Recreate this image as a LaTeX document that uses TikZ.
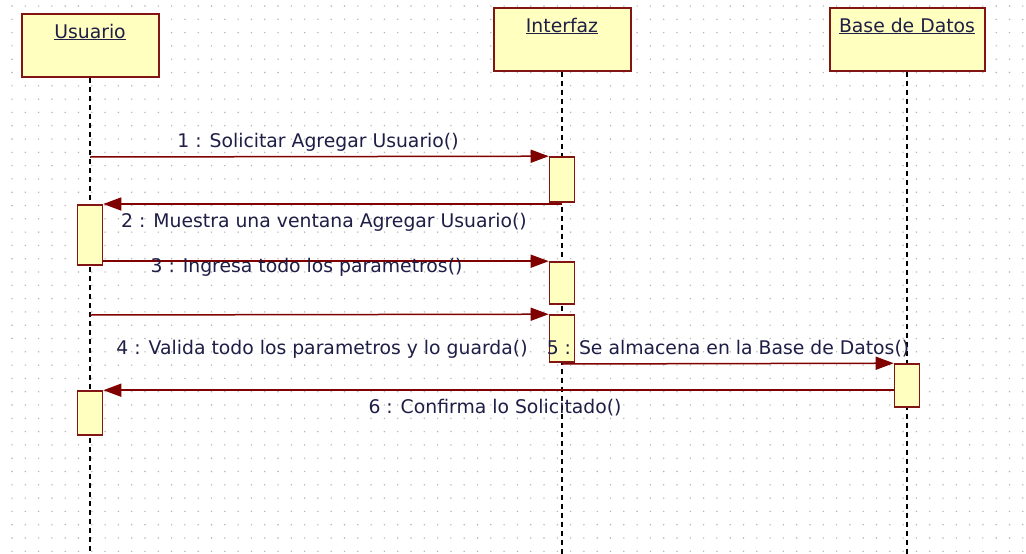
\documentclass[tikz,border=0pt]{standalone}
\usepackage{fontspec}
\setmainfont{DejaVu Sans}
\usetikzlibrary{arrows.meta}
\definecolor{boxfill}{RGB}{255,255,192}
\definecolor{boxline}{RGB}{130,20,20}
\definecolor{msgline}{RGB}{128,0,0}
\definecolor{msgtext}{RGB}{30,30,70}
\definecolor{gridpt}{RGB}{180,180,180}

\begin{document}
\begin{tikzpicture}[x=1pt,y=-1pt,
	head/.style={draw=boxline,fill=boxfill,line width=2pt,minimum width=137pt,minimum height=63pt,inner sep=0pt},
	act/.style={draw=boxline,fill=boxfill,line width=1.6pt,minimum width=25pt,inner sep=0pt},
	lifeline/.style={dash pattern=on 5pt off 4pt,line width=1.6pt},
	msg/.style={draw=msgline,line width=1.5pt,-{Triangle[length=18pt,width=13pt]}},
	lbl/.style={text=msgtext,font=\fontsize{18.8}{20}\selectfont,inner sep=0pt}]
		\fill[white] (0,0) rectangle (1026,554);
		\useasboundingbox (0,0) rectangle (1026,554);
		\foreach \i in {0,...,76}
			\foreach \j in {0,...,41}
				\fill[gridpt] (12+\i*13.3,6+\j*13.3) circle (0.8);
		% cabeceras
		\node[head] (usuario) at (90,45.5) {};
		\node[head] (interfaz) at (562,39) {};
		\node[head,minimum width=155pt] (bd) at (907,39) {};
		\node[lbl] (usuarioT) at (90,32) {\underline{Usuario}};
		\node[lbl] (interfazT) at (562,26) {\underline{Interfaz}};
		\node[lbl] (bdT) at (907,26) {\underline{Base de Datos}};
		\draw[lifeline] (usuario.south) -- ++(0,477);
		\draw[lifeline] (interfaz.south) -- ++(0,483);
		\draw[lifeline] (bd.south) -- ++(0,483);
		% activaciones
		\node[act,minimum height=45pt] (i1) at (562,179.5) {};
		\node[act,minimum height=60pt] (u1) at (90,235) {};
		\node[act,minimum height=42pt] (i2) at (562,283) {};
		\node[act,minimum height=47pt] (i3) at (562,338.5) {};
		\node[act,minimum height=43pt] (b1) at (907,385.5) {};
		\node[act,minimum height=44pt] (u2) at (90,413) {};
		% mensajes
		\coordinate (m1) at (90,157);
		\coordinate (m2) at (562,204);
		\coordinate (m4) at (90,315);
		\coordinate (m5) at (562,364);
		\draw[msg] (m1) -- (i1.north west);
		\draw[msg] (m2) -- (m2 -| u1.east);
		\draw[msg] (u1.east |- i2.north) -- (i2.north west);
		\draw[msg] (m4) -- (i3.north west);
		\draw[msg] (m5) -- (b1.north west);
		\draw[msg] (b1.west |- u2.north) -- (u2.north east);
		\node[lbl] (l1) at (318,142) {1 : Solicitar Agregar Usuario()};
		\node[lbl] (l2) at (324,222) {2 : Muestra una ventana Agregar Usuario()};
		\node[lbl] (l3) at (306.5,267) {3 : Ingresa todo los parametros()};
		\node[lbl] (l4) at (322,349) {4 : Valida todo los parametros y lo guarda()};
		\node[lbl] (l5) at (728,349) {5 : Se almacena en la Base de Datos()};
		\node[lbl] (l6) at (495,408) {6 : Confirma lo Solicitado()};
	\end{tikzpicture}
\end{document}
